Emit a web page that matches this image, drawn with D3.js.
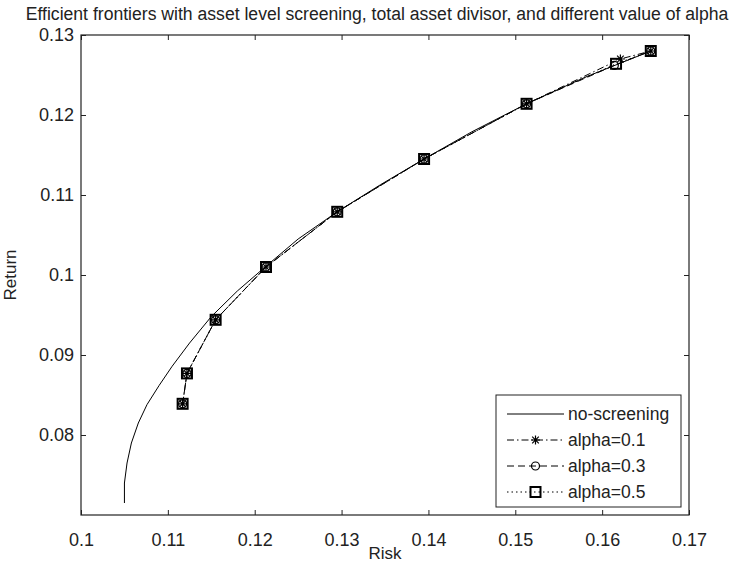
<!DOCTYPE html>
<html lang="en">
<head>
<meta charset="UTF-8">
<title>Efficient frontiers</title>
<script src="https://d3js.org/d3.v7.min.js"></script>
<style>
    body { margin: 0; background: #fff; }
    svg { display: block; font-family: "Liberation Sans", Arial, sans-serif; }
    .tick line { stroke: #222; }
    .tick text { font-size: 18px; fill: #222; }
</style>
</head>
<body>
<svg id="chart" width="744" height="564"></svg>
<script>
// axis ticks
const xTicks = [0.1, 0.11, 0.12, 0.13, 0.14, 0.15, 0.16, 0.17];
const yTicks = [0.08, 0.09, 0.1, 0.11, 0.12, 0.13];

// no-screening frontier [risk, return]
const noScreening = [
    [0.1050, 0.0715], [0.1050, 0.0740], [0.1053, 0.0765], [0.1058, 0.0790],
    [0.1066, 0.0815], [0.1076, 0.0838], [0.1090, 0.0862], [0.1105, 0.0886],
    [0.1125, 0.0915], [0.1150, 0.0948], [0.1180, 0.0980], [0.1212, 0.1010],
    [0.1250, 0.1045], [0.1295, 0.1079], [0.1345, 0.1113], [0.1395, 0.1145],
    [0.1450, 0.1179], [0.1513, 0.1214], [0.1580, 0.1247], [0.1656, 0.1280]
];

// screened frontiers [risk, return]
const alpha01 = [
    [0.1117, 0.0839], [0.1122, 0.0877], [0.1155, 0.0944], [0.1213, 0.1010],
    [0.1295, 0.1079], [0.1395, 0.1145], [0.1513, 0.1214], [0.1621, 0.1270],
    [0.1656, 0.1280]
];
const alpha03 = [
    [0.1117, 0.0839], [0.1122, 0.0877], [0.1155, 0.0944], [0.1213, 0.1010],
    [0.1295, 0.1079], [0.1395, 0.1145], [0.1513, 0.1214], [0.1614, 0.1262],
    [0.1656, 0.1280]
];
const alpha05 = [
    [0.1117, 0.0839], [0.1122, 0.0877], [0.1155, 0.0944], [0.1213, 0.1010],
    [0.1295, 0.1079], [0.1395, 0.1145], [0.1513, 0.1214], [0.1616, 0.1264],
    [0.1656, 0.1280]
];

const series = [
    { label: "no-screening", data: noScreening, dash: null, marker: null },
    { label: "alpha=0.1", data: alpha01, dash: "7,3,1.5,3", marker: "star" },
    { label: "alpha=0.3", data: alpha03, dash: "7,4", marker: "circle" },
    { label: "alpha=0.5", data: alpha05, dash: "1.5,3", marker: "square" }
];

const margin = { top: 35, right: 55, bottom: 49, left: 81 },
      width = 744 - margin.left - margin.right,
      height = 564 - margin.top - margin.bottom;

const svg = d3.select("#chart");
const g = svg.append("g").attr("transform", `translate(${margin.left},${margin.top})`);

const x = d3.scaleLinear().domain([0.1, 0.17]).range([0, width]);
const y = d3.scaleLinear().domain([0.07, 0.13]).range([height, 0]);
const fmt = d => String(+d.toFixed(2));

// axes with inward ticks on all four sides
g.append("g").attr("transform", `translate(0,${height})`)
    .call(d3.axisBottom(x).tickValues(xTicks).tickFormat(fmt).tickSizeInner(-5).tickSizeOuter(0).tickPadding(18))
    .call(a => a.select(".domain").remove());
g.append("g")
    .call(d3.axisTop(x).tickValues(xTicks).tickFormat("").tickSizeInner(-5).tickSizeOuter(0))
    .call(a => a.select(".domain").remove());
g.append("g")
    .call(d3.axisLeft(y).tickValues(yTicks).tickFormat(fmt).tickSizeInner(-5).tickSizeOuter(0).tickPadding(7))
    .call(a => a.select(".domain").remove());
g.append("g").attr("transform", `translate(${width},0)`)
    .call(d3.axisRight(y).tickValues(yTicks).tickFormat("").tickSizeInner(-5).tickSizeOuter(0))
    .call(a => a.select(".domain").remove());
g.selectAll(".tick text").attr("font-family", null).attr("font-size", null);

g.append("rect")
    .attr("width", width).attr("height", height)
    .attr("fill", "none").attr("stroke", "#222").attr("stroke-width", 1.2);

// markers
function drawMarker(sel, type, cx, cy) {
    if (type === "star") {
        const r = 4.5;
        sel.append("path")
            .attr("d", `M${cx - r},${cy}H${cx + r}M${cx},${cy - r}V${cy + r}` +
                `M${cx - 3.3},${cy - 3.3}L${cx + 3.3},${cy + 3.3}M${cx - 3.3},${cy + 3.3}L${cx + 3.3},${cy - 3.3}`)
            .attr("stroke", "#000").attr("stroke-width", 1.2).attr("fill", "none");
    } else if (type === "circle") {
        sel.append("circle").attr("cx", cx).attr("cy", cy).attr("r", 4)
            .attr("stroke", "#000").attr("stroke-width", 1.2).attr("fill", "none");
    } else if (type === "square") {
        sel.append("rect").attr("x", cx - 5).attr("y", cy - 5)
            .attr("width", 10).attr("height", 10)
            .attr("stroke", "#000").attr("stroke-width", 2).attr("fill", "none");
    }
}

const line = d3.line().x(d => x(d[0])).y(d => y(d[1]));

series.forEach(s => {
    g.append("path")
        .datum(s.data)
        .attr("d", line)
        .attr("fill", "none")
        .attr("stroke", "#000")
        .attr("stroke-width", 1)
        .attr("stroke-dasharray", s.dash);
    if (s.marker) {
        const mg = g.append("g");
        s.data.forEach(d => drawMarker(mg, s.marker, x(d[0]), y(d[1])));
    }
});

// legend
const legend = g.append("g").attr("transform", `translate(${width - 193},${height - 120})`);
legend.append("rect")
    .attr("width", 185).attr("height", 112)
    .attr("fill", "#fff").attr("stroke", "#222").attr("stroke-width", 1);

series.forEach((s, i) => {
    const ly = 19 + i * 26;
    const row = legend.append("g");
    row.append("line")
        .attr("x1", 11).attr("x2", 68).attr("y1", ly).attr("y2", ly)
        .attr("stroke", "#000").attr("stroke-width", 1)
        .attr("stroke-dasharray", s.dash);
    if (s.marker) drawMarker(row, s.marker, 39.5, ly);
    row.append("text")
        .attr("x", 72).attr("y", ly + 6)
        .attr("font-size", "17.5px").attr("fill", "#222")
        .text(s.label);
});

// labels
svg.append("text")
    .attr("x", 377).attr("y", 20)
    .attr("text-anchor", "middle")
    .attr("font-size", "17.6px").attr("fill", "#222")
    .text("Efficient frontiers with asset level screening, total asset divisor, and different value of alpha");

svg.append("text")
    .attr("x", margin.left + width / 2).attr("y", 559)
    .attr("text-anchor", "middle")
    .attr("font-size", "17px").attr("fill", "#222")
    .text("Risk");

svg.append("text")
    .attr("transform", `translate(16,${margin.top + height / 2}) rotate(-90)`)
    .attr("text-anchor", "middle")
    .attr("font-size", "17px").attr("fill", "#222")
    .text("Return");
</script>
</body>
</html>
